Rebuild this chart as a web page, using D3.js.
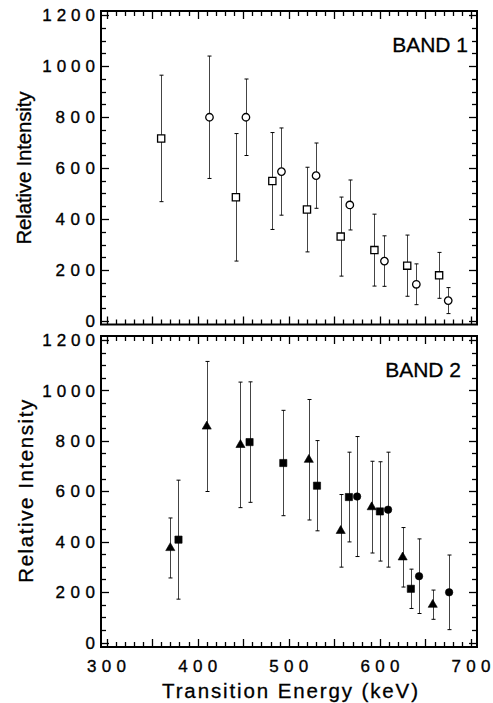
<!DOCTYPE html>
<html>
<head>
<meta charset="utf-8">
<script src="https://cdn.jsdelivr.net/npm/d3@7"></script>
<style>
  html, body { margin: 0; padding: 0; background: #fff; }
  svg { display: block; }
  text { font-family: "Liberation Sans", Arial, Helvetica, sans-serif; fill: #000; stroke: #000; }
</style>
</head>
<body>
<svg id="chart" width="493" height="703"></svg>
<script>
// ---- Data: transition energies (keV), relative intensities and 1-sigma errors ----
const band1Energy    = [360, 413, 442, 453, 482, 492, 520, 530, 557, 567, 594, 605, 630, 640, 665, 675];
const band1Intensity = [716, 799, 485, 799, 549, 586, 437, 570, 331, 455, 278, 235, 217, 144, 179, 80];
const band1Error     = [248, 240, 250, 150, 190, 171, 166, 128, 155, 98, 141, 99, 120, 80, 90, 51];
const band1Symbol    = ["square", "circle", "square", "circle", "square", "circle", "square", "circle",
                        "square", "circle", "square", "circle", "square", "circle", "square", "circle"];

const band2TriEnergy    = [370, 410, 447, 522, 557, 591, 625, 658];
const band2TriIntensity = [375, 857, 784, 725, 443, 537, 338, 150];
const band2TriError     = [119, 258, 249, 239, 144, 182, 118, 58];

const band2SqEnergy     = [379, 457, 494, 531, 566, 600, 634];
const band2SqIntensity  = [408, 795, 712, 622, 577, 520, 213];
const band2SqError      = [236, 239, 209, 179, 178, 197, 78];

const band2CircEnergy    = [575, 609, 643, 676];
const band2CircIntensity = [579, 527, 263, 199];
const band2CircError     = [238, 228, 148, 148];

const yTickValues = [0, 200, 400, 600, 800, 1000, 1200];
const xTickValues = [300, 400, 500, 600, 700];
const yLabel = "Relative Intensity";
const xLabel = "Transition Energy (keV)";

// ---- Build point tables ----
const band1Points = band1Energy.map((e, i) => ({
  e, v: band1Intensity[i], err: band1Error[i], sym: band1Symbol[i], filled: false
}));
const band2Points = [].concat(
  band2TriEnergy.map((e, i) => ({ e, v: band2TriIntensity[i], err: band2TriError[i], sym: "triangle", filled: true })),
  band2SqEnergy.map((e, i) => ({ e, v: band2SqIntensity[i], err: band2SqError[i], sym: "square", filled: true })),
  band2CircEnergy.map((e, i) => ({ e, v: band2CircIntensity[i], err: band2CircError[i], sym: "circle", filled: true }))
);

const svg = d3.select("#chart");

const frameLeft = 101, frameRight = 477;
const x = d3.scaleLinear().domain([300, 700]).range([106.5, 471]);

const panels = [
  { name: "BAND 1", points: band1Points, y0: 321, y1: 15, frameTop: 11, frameBottom: 324.5,
    labelX: 468, labelY: 52, yLabelLen: 153, yLabelX: 31, showX: false },
  { name: "BAND 2", points: band2Points, y0: 642.5, y1: 340, frameTop: 336, frameBottom: 647,
    labelX: 461, labelY: 377, yLabelLen: 183, yLabelX: 33, showX: true }
];

const symbolGen = {
  square: d3.symbol().type(d3.symbolSquare).size(52),
  circle: d3.symbol().type(d3.symbolCircle).size(44),
  triangle: d3.symbol().type(d3.symbolTriangle).size(36)
};

panels.forEach(p => {
  const y = d3.scaleLinear().domain([0, 1200]).range([p.y0, p.y1]);
  const g = svg.append("g");

  // Minor / major ticks on all four sides, pointing inward
  const yMinor = d3.range(0, 1201, 50);
  const xMinor = d3.range(300, 701, 10);
  const tickG = g.append("g").attr("stroke", "#000").attr("stroke-width", 1.3);

  yMinor.forEach(v => {
    const len = v % 200 === 0 ? 8 : 5;
    const yy = Math.round(y(v)) + 0.5;
    tickG.append("line").attr("x1", frameLeft).attr("x2", frameLeft + len).attr("y1", yy).attr("y2", yy);
    tickG.append("line").attr("x1", frameRight).attr("x2", frameRight - len).attr("y1", yy).attr("y2", yy);
  });
  xMinor.forEach(v => {
    const len = v % 50 === 0 ? 8 : 5;
    const xx = Math.round(x(v)) + 0.5;
    tickG.append("line").attr("x1", xx).attr("x2", xx).attr("y1", p.frameBottom).attr("y2", p.frameBottom - len);
    tickG.append("line").attr("x1", xx).attr("x2", xx).attr("y1", p.frameTop).attr("y2", p.frameTop + len);
  });

  // Frame
  g.append("rect")
    .attr("x", frameLeft).attr("y", p.frameTop)
    .attr("width", frameRight - frameLeft).attr("height", p.frameBottom - p.frameTop)
    .attr("fill", "none").attr("stroke", "#000").attr("stroke-width", 2);

  // Y tick labels
  g.append("g").selectAll("text").data(yTickValues).join("text")
    .attr("x", 95).attr("y", d => y(d))
    .attr("dy", "0.36em")
    .attr("text-anchor", "end")
    .attr("font-size", 17)
    .attr("stroke-width", 0.35)
    .attr("textLength", d => String(d).length * 13.2)
    .attr("lengthAdjust", "spacing")
    .text(d => d);

  // Y axis title
  g.append("text")
    .attr("transform", `translate(${p.yLabelX},${(p.y0 + p.y1) / 2}) rotate(-90)`)
    .attr("text-anchor", "middle")
    .attr("font-size", 20.5)
    .attr("stroke-width", 0.3)
    .attr("textLength", p.yLabelLen)
    .attr("lengthAdjust", "spacing")
    .text(yLabel);

  // Band label
  g.append("text")
    .attr("x", p.labelX).attr("y", p.labelY)
    .attr("text-anchor", "end")
    .attr("font-size", 21)
    .attr("stroke-width", 0.3)
    .text(p.name);

  // Error bars
  const eb = g.append("g").attr("stroke", "#444").attr("stroke-width", 1);
  p.points.forEach(d => {
    const xx = Math.round(x(d.e)) + 0.5;
    const yTop = y(d.v + d.err), yBot = y(d.v - d.err);
    eb.append("line").attr("x1", xx).attr("x2", xx).attr("y1", yTop).attr("y2", yBot);
    eb.append("line").attr("x1", xx - 2).attr("x2", xx + 2).attr("y1", yTop).attr("y2", yTop).attr("stroke", "#000");
    eb.append("line").attr("x1", xx - 2).attr("x2", xx + 2).attr("y1", yBot).attr("y2", yBot).attr("stroke", "#000");
  });

  // Markers
  g.append("g").selectAll("path").data(p.points).join("path")
    .attr("transform", d => `translate(${x(d.e)},${y(d.v)})`)
    .attr("d", d => symbolGen[d.sym]())
    .attr("fill", d => d.filled ? "#000" : "#fff")
    .attr("stroke", "#000")
    .attr("stroke-width", d => d.filled ? 0.6 : 1.3);

  if (p.showX) {
    g.append("g").selectAll("text").data(xTickValues).join("text")
      .attr("x", d => x(d)).attr("y", 672)
      .attr("text-anchor", "middle")
      .attr("font-size", 17)
      .attr("stroke-width", 0.35)
      .attr("textLength", 39)
      .attr("lengthAdjust", "spacing")
      .text(d => d);

    g.append("text")
      .attr("x", 290).attr("y", 698)
      .attr("text-anchor", "middle")
      .attr("font-size", 20.5)
      .attr("stroke-width", 0.3)
      .attr("textLength", 256)
      .attr("lengthAdjust", "spacing")
      .text(xLabel);
  }
});
</script>
</body>
</html>
